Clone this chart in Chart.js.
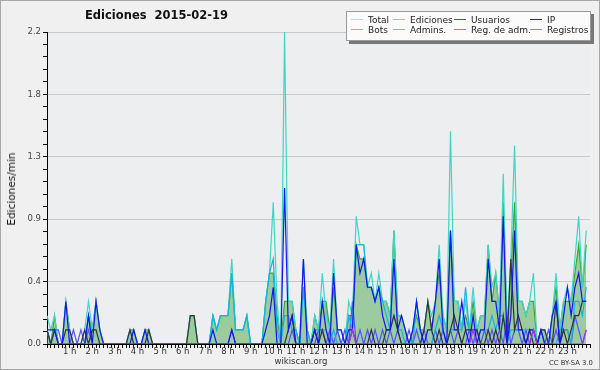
<!DOCTYPE html>
<html>
<head>
<meta charset="utf-8">
<script src="https://cdn.jsdelivr.net/npm/chart.js@4"></script>
<style>
  body { margin: 0; background: #f0f0f0; }
  #marco { position: relative; width: 598px; height: 368px; border: 1px solid #a8a8a8; background: #f0f0f0; overflow: hidden; }
  #grafico { position: absolute; left: -1px; top: -1px; }
  .txt { position: absolute; font-family: "DejaVu Sans", sans-serif; color: #111; white-space: nowrap; }
  #titulo { left: 84px; top: 7px; font-size: 11.5px; font-weight: bold; }
  #ejeY { left: 4px; top: 188px; font-size: 10.5px; transform: translate(-50%, -50%) rotate(-90deg); transform-origin: center; margin-left: 6px; }
  #pie { left: 300px; top: 355px; font-size: 8.5px; color: #333; transform: translateX(-50%); }
  #licencia { left: 548px; top: 358px; font-size: 6.8px; color: #333; }
  #leyenda { position: absolute; left: 345px; top: 10px; width: 243px; height: 28px; background: #fbfbfb; border: 1px solid #9a9a9a; box-shadow: 3px 3px 0 #777; }
  .item { position: absolute; font-family: "DejaVu Sans", sans-serif; font-size: 9px; color: #222; line-height: 10px; white-space: nowrap; }
  .item i { display: inline-block; width: 12px; height: 0; border-top: 1px solid; vertical-align: middle; margin-right: 5px; position: relative; top: -1px; }
</style>
</head>
<body>
<div id="marco">
  <canvas id="grafico" width="600" height="370"></canvas>
  <div class="txt" id="titulo">Ediciones&nbsp; 2015-02-19</div>
  <div class="txt" id="ejeY">Ediciones/min</div>
  <div class="txt" id="pie">wikiscan.org</div>
  <div class="txt" id="licencia">CC BY-SA 3.0</div>
  <div id="leyenda"></div>
</div>
<script>
// ============================================================
//  Ediciones por franja de 10 minutos · 2015-02-19
// ============================================================

// franjas de 10 min (0 = 00:00 ... 143 = 23:50)
const franjas = Array.from({ length: 144 }, (_, i) => i);
const etiquetasHora = ['1 h','2 h','3 h','4 h','5 h','6 h','7 h','8 h','9 h','10 h','11 h','12 h',
  '13 h','14 h','15 h','16 h','17 h','18 h','19 h','20 h','21 h','22 h','23 h'];
const etiquetasY = ['0.0', '0.4', '0.9', '1.3', '1.8', '2.2'];

const total = [
  .2,.1,.2,0,0,.3,   .1,0,0,0,.1,.3,   .1,.3,.1,0,0,0,   0,0,0,0,.1,.1,
  0,0,.1,.1,0,0,     0,0,0,0,0,0,      0,0,.2,.2,0,0,    0,0,.2,.1,.2,.2,
  .2,.6,.1,.1,.1,.2, 0,0,0,0,.3,.5,    1.0,.3,0,2.2,.3,.3, .1,0,.6,.1,0,.2,
  .1,.5,.2,.1,.6,.1, .1,0,.3,.2,.9,.7, .7,.4,.5,.3,.5,.3, .3,.2,.8,.2,.2,.1,
  0,.1,.3,.1,.1,.3,  .2,.3,.7,.2,.1,1.5, .3,.3,.1,.3,.1,.4, .1,.2,.2,.7,.4,.5,
  .2,1.2,.1,.6,1.4,.3, .3,.2,.3,.5,0,.1, .1,0,.2,.5,.1,.3, .4,.3,.6,.9,.4,.8
];
const ediciones = [
  .1,0,.2,0,0,.3,    .1,0,0,0,0,.2,    .1,.3,.1,0,0,0,   0,0,0,0,.1,.1,
  0,0,.1,.1,0,0,     0,0,0,0,0,0,      0,0,.2,.2,0,0,    0,0,.2,.1,.2,.2,
  .2,.5,.1,.1,.1,.2, 0,0,0,0,.3,.5,    .5,.2,0,.3,.3,.3, .1,0,.4,.1,0,.2,
  .1,.3,.3,.1,.4,.1, 0,0,.2,.2,.7,.6,  .6,.4,.4,.3,.4,.3, .3,.2,.8,.2,.2,.1,
  0,.1,.2,.1,.1,.3,  .1,.3,.5,.2,.1,.8, .3,.3,.1,.2,.1,.3, .1,.2,.2,.7,.3,.5,
  .2,1.0,.1,.5,1.0,.3, .3,.2,.3,.3,0,.1, .1,0,.2,.4,.1,.3, .3,.3,.5,.7,.4,.7
];
const usuarios = [
  .1,.1,.1,0,0,.3,   0,0,0,0,0,.2,     0,.3,.1,0,0,0,    0,0,0,0,0,.1,
  0,0,.1,0,0,0,      0,0,0,0,0,0,      0,0,0,0,0,0,      0,0,.1,0,0,0,
  0,.1,0,0,0,0,      0,0,0,0,.1,.2,    .4,0,0,1.1,.1,.2, 0,0,.6,0,0,.1,
  0,.3,.1,0,.5,.1,   .1,0,.1,.1,.7,.5, .6,.4,.4,.3,.4,.2, .1,.1,.6,.1,.2,.1,
  0,.1,.3,.1,0,.1,   .1,.3,.6,.1,0,.8, .1,.1,.3,.1,0,.2, 0,.1,.1,.6,.3,.3,
  .1,.9,0,.2,.8,.1,  .1,0,.1,.1,0,.1,  0,0,.2,.3,0,.2,   .4,.2,.4,.5,.3,.3
];
const ip = [
  .1,0,.1,0,0,.1,    .1,0,0,0,.1,0,    .1,.1,0,0,0,0,    0,0,0,0,.1,0,
  0,0,0,.1,0,0,      0,0,0,0,0,0,      0,0,.2,.2,0,0,    0,0,0,0,0,0,
  0,0,0,0,0,0,       0,0,0,0,0,0,      0,0,0,0,.1,.2,    0,0,0,0,0,.1,
  0,.1,0,0,0,0,      0,0,0,.1,0,0,     0,0,.1,0,0,0,     .1,.1,.2,.1,0,0,
  0,0,0,0,.1,.3,     .1,0,.1,0,0,.1,   .2,.1,0,.1,.1,.1, .1,0,0,.1,0,.1,
  0,.2,0,.6,.1,.2,   .1,0,.1,0,0,.1,   .1,0,0,.3,0,.1,   0,.1,.2,.2,.3,.3
];
const bots = [];
const admins = [
  .1,0,0,0,0,0,      0,0,0,0,0,.2,     0,0,0,0,0,0,      0,0,0,0,0,0,
  0,0,0,0,0,0,       0,0,0,0,0,0,      0,0,0,0,0,0,      0,0,.2,.1,.2,.2,
  .2,.5,.1,.1,.1,.2, 0,0,0,0,.3,.5,    .6,.1,0,.2,.2,.1, .1,0,.4,.1,0,.1,
  .1,.1,.1,0,.1,0,   0,0,.2,.1,.7,.7,  .7,.4,.4,.3,.4,.3, .2,.1,.2,.1,.1,0,
  0,0,.3,.1,0,0,     0,.1,.2,.1,0,.1,  .1,.1,.1,.4,.1,.1, 0,.1,.1,.1,.2,.1,
  .2,.2,0,.1,.1,.1,  .1,.1,.1,.1,0,0,  0,0,0,0,.1,.1,    .1,0,.3,.3,.2,.4
];
const regAdm = [
  0,0,0,0,0,0, 0,0,0,0,0,0, 0,0,0,0,0,0, 0,0,0,0,0,0,
  0,0,0,0,0,0, 0,0,0,0,0,0, 0,0,0,0,0,0, 0,0,0,0,0,0,
  0,0,0,0,0,0, 0,0,0,0,0,0, 0,0,0,0,0,0, 0,0,0,0,0,0,
  0,0,0,0,0,0, 0,0,0,.1,0,0, 0,0,0,0,0,0, 0,0,0,0,0,0,
  0,0,0,0,0,0, 0,0,0,0,0,0, 0,0,0,0,0,.1, 0,0,0,0,0,0,
  0,0,0,0,0,0, 0,0,0,.1,0,0, 0,0,0,0,0,0, 0,0,0,0,0,.1
];
const registros = [
  .1,0,.1,.1,0,0,    0,.1,0,.1,0,.1,   0,0,0,0,0,0,      0,0,0,0,0,0,
  0,0,0,0,0,0,       0,0,0,0,0,0,      0,0,0,0,0,0,      0,0,0,0,0,0,
  0,.1,0,0,0,0,      0,0,0,0,0,0,      0,0,0,0,0,.1,     0,0,0,0,0,0,
  .1,.1,0,.1,0,.1,   0,.1,0,.3,0,.1,   0,.1,0,.1,0,.1,   0,.1,0,.1,0,0,
  .1,0,.1,0,.1,0,    0,.1,0,.1,0,.1,   0,.1,0,0,.1,0,    .1,0,.1,0,.1,0,
  .1,0,.2,0,.1,.1,   0,.1,0,.1,0,.1,   0,.1,0,.1,0,.1,   .1,0,.2,.1,0,.1
];

const series = [
  { nombre: 'Total',        datos: total,     color: '#3fd6c6', leyenda: '#9fe3dc', orden: 9 },
  { nombre: 'Ediciones',    datos: ediciones, color: '#38a838', leyenda: '#8fd08f', orden: 10, relleno: 'rgba(60,160,60,0.45)' },
  { nombre: 'Usuarios',     datos: usuarios,  color: '#1414ee', leyenda: '#4646d8', orden: 2 },
  { nombre: 'IP',           datos: ip,        color: '#333333', leyenda: '#333333', orden: 3 },
  { nombre: 'Bots',         datos: bots,      color: '#f0a030', leyenda: '#f0a030', orden: 8 },
  { nombre: 'Admins.',      datos: admins,    color: '#12b4e2', leyenda: '#58c8e0', orden: 4 },
  { nombre: 'Reg. de adm.', datos: regAdm,    color: '#b030e8', leyenda: '#c060e8', orden: 1 },
  { nombre: 'Registros',    datos: registros, color: '#5252ff', leyenda: '#8080f0', orden: 5 },
];

// leyenda en HTML (4 columnas x 2 filas)
const colsX = [4, 46, 107, 183];
const leyenda = document.getElementById('leyenda');
series.forEach((s, k) => {
  const d = document.createElement('div');
  d.className = 'item';
  d.style.left = colsX[k % 4] + 'px';
  d.style.top = (k < 4 ? 3 : 13) + 'px';
  d.innerHTML = `<i style="border-color:${s.leyenda}"></i>${s.nombre}`;
  leyenda.appendChild(d);
});

const fondoPlot = {
  id: 'fondoPlot',
  beforeDraw(chart) {
    const { ctx, chartArea: a } = chart;
    ctx.save();
    ctx.fillStyle = '#eceef0';
    ctx.fillRect(a.left, a.top, a.right - a.left, a.bottom - a.top);
    ctx.restore();
  }
};

new Chart(document.getElementById('grafico'), {
  type: 'line',
  data: {
    datasets: series.map(s => ({
      label: s.nombre,
      data: s.datos.map((v, i) => ({ x: franjas[i], y: v })),
      borderColor: s.color,
      backgroundColor: s.relleno || s.color,
      fill: s.relleno ? 'origin' : false,
      borderWidth: 1.2,
      pointRadius: 0,
      tension: 0,
      order: s.orden,
    }))
  },
  options: {
    responsive: false,
    animation: false,
    events: [],
    layout: { padding: { top: 32, right: 10, left: 0, bottom: 0 } },
    plugins: { legend: { display: false }, tooltip: { enabled: false } },
    scales: {
      x: {
        type: 'linear', min: 0, max: 144,
        afterFit: s => { s.height = 26; },
        border: { color: '#000', width: 1 },
        grid: { drawOnChartArea: false, tickColor: '#000', tickLength: 4 },
        ticks: {
          stepSize: 1, autoSkip: false, maxRotation: 0, minRotation: 0, padding: -1,
          color: '#333', font: { family: 'DejaVu Sans', size: 8.5 },
          callback: v => (v % 6 === 0 && v > 0 && v < 144) ? etiquetasHora[v / 6 - 1] : ''
        }
      },
      y: {
        min: 0, max: 2.2,
        afterFit: s => { s.width = 47; },
        border: { color: '#000', width: 1 },
        grid: {
          color: c => (c.index % 5 === 0 && c.index > 0) ? '#c9c9c9' : 'rgba(0,0,0,0)',
          tickColor: '#000', tickLength: 4
        },
        ticks: {
          stepSize: 0.088, autoSkip: false, padding: 2,
          color: '#444', font: { family: 'DejaVu Sans', size: 8.5 },
          callback: (v, i) => i % 5 === 0 ? etiquetasY[i / 5] : ''
        }
      }
    }
  },
  plugins: [fondoPlot]
});
</script>
</body>
</html>
